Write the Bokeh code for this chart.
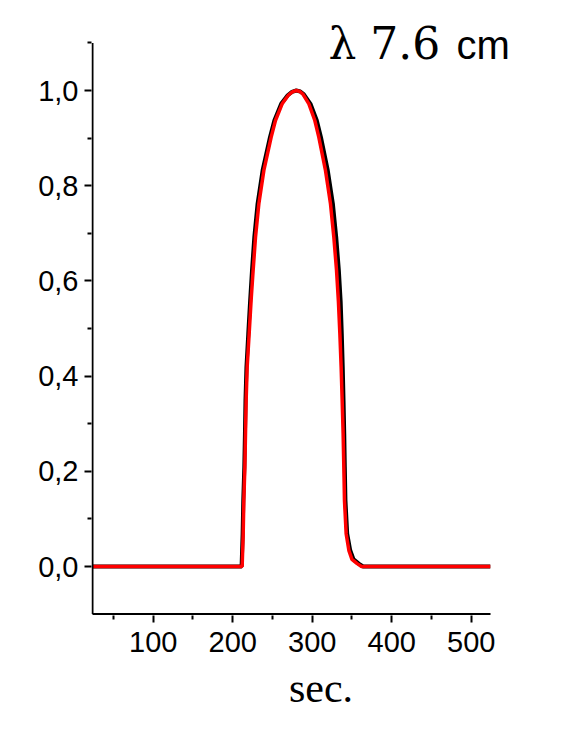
from bokeh.plotting import figure
from bokeh.models import Range1d, FixedTicker, Label
from bokeh.embed import file_html
from bokeh.resources import INLINE

# ---- data ----
red_x = [24, 100, 200, 211.9, 213.2, 214.0, 215.3, 216.1, 216.9, 218.2, 220.7, 223.2, 225.7,
         228.7, 232.9, 239.2, 248.4, 253.8, 262.2, 270.0, 275.0, 280.0, 284.5, 288.5, 295.8,
         303.3, 308.3, 316.7, 323.0, 327.2, 330.6, 333.0, 334.8, 336.4, 337.7, 338.9, 339.8,
         340.6, 342.7, 346.1, 350.0, 356.6, 362.0, 400, 524]
red_y = [0, 0, 0, 0.0, 0.069, 0.139, 0.209, 0.279, 0.349, 0.419, 0.489, 0.56, 0.622,
         0.692, 0.762, 0.832, 0.902, 0.937, 0.972, 0.99, 0.997, 1.0, 0.998, 0.992, 0.972,
         0.937, 0.902, 0.832, 0.762, 0.692, 0.622, 0.556, 0.489, 0.419, 0.349, 0.279, 0.209,
         0.139, 0.069, 0.034, 0.015, 0.006, 0.0, 0, 0]

black_x = [24, 100, 200, 211.2, 212.5, 213.3, 214.6, 215.4, 216.1, 217.3, 219.6, 222.0, 224.3,
           227.2, 231.3, 237.6, 246.9, 252.4, 261.0, 269.2, 274.6, 280.0, 285.0, 289.5, 297.8,
           305.8, 311.0, 319.6, 326.0, 330.2, 333.5, 335.8, 337.2, 338.4, 339.4, 340.3, 341.0,
           341.8, 344.0, 347.8, 352.0, 358.5, 364.0, 400, 524]
black_y = [0, 0, 0, 0.0, 0.069, 0.139, 0.209, 0.279, 0.349, 0.419, 0.489, 0.56, 0.622,
           0.692, 0.762, 0.832, 0.902, 0.937, 0.972, 0.99, 0.997, 1.0, 0.998, 0.992, 0.972,
           0.937, 0.902, 0.832, 0.762, 0.692, 0.622, 0.556, 0.489, 0.419, 0.349, 0.279, 0.209,
           0.139, 0.069, 0.034, 0.015, 0.006, 0.0, 0, 0]

x_ticks = [100, 200, 300, 400, 500]
x_minor = [50, 150, 250, 350, 450]
y_ticks = [0.0, 0.2, 0.4, 0.6, 0.8, 1.0]
y_minor = [0.1, 0.3, 0.5, 0.7, 0.9, 1.1]
y_tick_labels = {0.0: "0,0", 0.2: "0,2", 0.4: "0,4", 0.6: "0,6", 0.8: "0,8", 1.0: "1,0"}

title_lambda = "λ 7.6"
title_unit = "cm"
x_label = "sec."

# axis extents (data units)
X_AXIS_START, X_AXIS_END = 23.65, 524.3
Y_AXIS_START, Y_AXIS_END = -0.1, 1.1

# ---- figure ----
# the frame is a little larger than the drawn axes so that the title can sit inside it
p = figure(width=564, height=732, output_backend="svg", toolbar_location=None,
           x_range=Range1d(22.39, 599.75), y_range=Range1d(-0.10294, 1.17227),
           min_border_left=91, min_border_right=14, min_border_top=8, min_border_bottom=117)
p.outline_line_color = None
p.xgrid.visible = False
p.ygrid.visible = False
p.background_fill_color = "white"
p.border_fill_color = "white"

p.line(black_x, black_y, line_color="black", line_width=4)
p.line(red_x, red_y, line_color="#ff0000", line_width=3.5)

# axis lines drawn over the real axis extents
p.line([X_AXIS_START, X_AXIS_END], [Y_AXIS_START, Y_AXIS_START], line_color="black", line_width=2)
p.line([X_AXIS_START, X_AXIS_START], [Y_AXIS_START, Y_AXIS_END], line_color="black", line_width=2)

for ax in (p.xaxis[0], p.yaxis[0]):
    ax.axis_line_color = None
    ax.major_tick_line_width = 2
    ax.minor_tick_line_width = 2
    ax.major_tick_line_color = "black"
    ax.minor_tick_line_color = "black"
    ax.major_tick_out = 7
    ax.major_tick_in = 0
    ax.minor_tick_out = 4
    ax.minor_tick_in = 0
    ax.major_label_text_font = "Liberation Sans"
    ax.major_label_text_font_size = "29px"
    ax.major_label_text_color = "black"

p.xaxis[0].ticker = FixedTicker(ticks=x_ticks, minor_ticks=x_minor)
p.yaxis[0].ticker = FixedTicker(ticks=y_ticks, minor_ticks=y_minor)
p.yaxis[0].major_label_overrides = y_tick_labels
p.xaxis[0].major_label_standoff = 9
p.yaxis[0].major_label_standoff = 6

p.xaxis[0].axis_label = x_label
p.xaxis[0].axis_label_text_font = "Liberation Serif"
p.xaxis[0].axis_label_text_font_style = "normal"
p.xaxis[0].axis_label_text_font_size = "42px"
p.xaxis[0].axis_label_text_color = "black"
p.xaxis[0].axis_label_standoff = 10

p.add_layout(Label(x=320.5, y=1.099, text=title_lambda, text_font="DejaVu Serif",
                   text_font_size="44px", text_color="black", text_baseline="alphabetic"))
p.add_layout(Label(x=481.5, y=1.096, text=title_unit, text_font="Liberation Sans",
                   text_font_size="40px", text_color="black", text_baseline="alphabetic"))

open("out.html", "w").write(file_html(p, INLINE))
